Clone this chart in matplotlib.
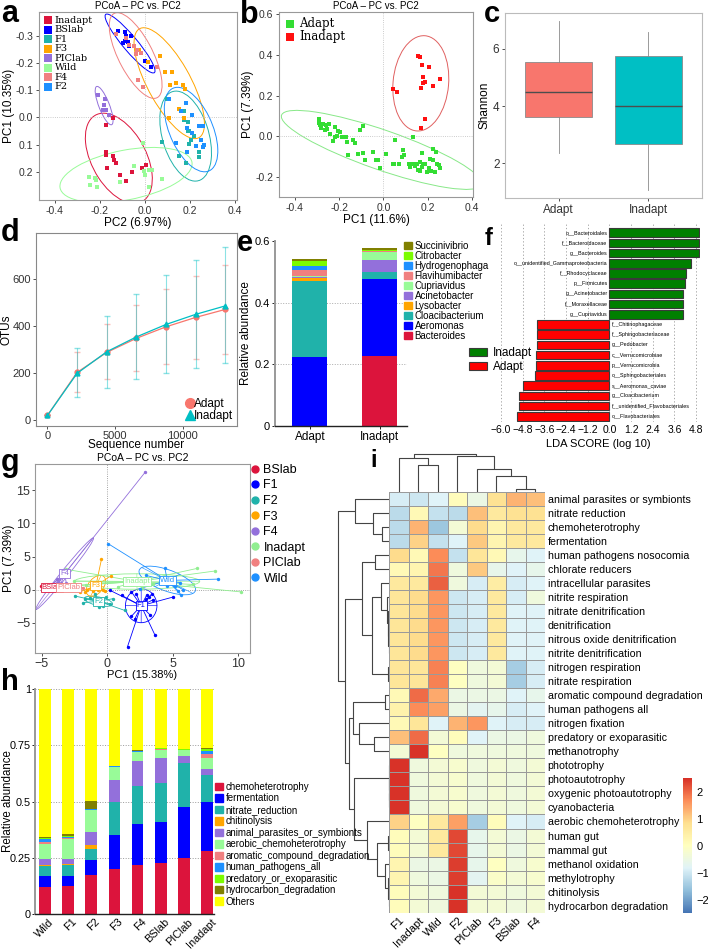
import numpy as np
import matplotlib
matplotlib.use('Agg')
import matplotlib.pyplot as plt
from matplotlib.patches import Ellipse, Patch
from matplotlib.lines import Line2D
from matplotlib.colors import LinearSegmentedColormap

plt.rcParams['font.family'] = ['Liberation Sans', 'DejaVu Sans']
plt.rcParams['axes.linewidth'] = 0.8

W, H = 708, 949
fig = plt.figure(figsize=(W / 100, H / 100), dpi=100)


def ax_px(l, t, r, b):
    return fig.add_axes([l / W, 1 - b / H, (r - l) / W, (b - t) / H])

# ----------------------------------------------------------------- data a
a_groups = ['Inadapt', 'BSlab', 'F1', 'F3', 'PIClab', 'Wild', 'F4', 'F2']
a_colors = {'Inadapt': '#DC143C', 'BSlab': '#0000FF', 'F1': '#20B2AA', 'F3': '#FFA500',
            'PIClab': '#9370DB', 'Wild': '#98FB98', 'F4': '#F08080', 'F2': '#1E90FF'}
a_x = {
    'Inadapt': [-0.174, -0.174, -0.142, -0.130, -0.137, -0.170, -0.112, -0.083, -0.058, -0.014, 0.006, -0.139, -0.171],
    'BSlab': [-0.120, -0.090, -0.083, -0.061, -0.086, -0.095, -0.076, -0.071, 0.001, 0.028],
    'F1': [0.101, 0.175, 0.175, 0.194, 0.190, 0.197, 0.217, 0.205, 0.197, 0.075, 0.242, 0.242, 0.153, 0.183],
    'F3': [0.069, 0.121, 0.090, 0.113, 0.138, 0.172, 0.178, 0.109, 0.175, 0.153, 0.013, -0.024],
    'PIClab': [-0.208, -0.176, -0.182, -0.171, -0.186, -0.160],
    'Wild': [-0.248, -0.245, -0.219, -0.216, -0.213, -0.112, -0.050, -0.006, -0.002, 0.017, 0.032, 0.001, 0.020, 0.075],
    'F4': [-0.127, -0.083, -0.046, -0.034, -0.017, -0.039, 0.053, -0.031, -0.009, -0.071],
    'F2': [0.106, 0.183, 0.160, 0.209, 0.187, 0.212, 0.242, 0.259, 0.249, 0.264, 0.259, 0.138, 0.187, 0.227],
}
a_y = {
    'Inadapt': [0.129, 0.138, 0.144, 0.169, 0.157, 0.188, 0.212, 0.235, 0.200, 0.188, 0.175, 0.001, 0.026],
    'BSlab': [-0.321, -0.315, -0.302, -0.302, -0.284, -0.275, -0.278, -0.265, -0.209, -0.185],
    'F1': [-0.067, -0.023, 0.008, 0.018, 0.051, 0.051, 0.070, 0.082, 0.097, 0.092, 0.126, 0.147, 0.144, 0.167],
    'F3': [-0.228, -0.170, -0.168, -0.119, -0.126, -0.119, -0.106, 0.001, 0.001, -0.033, -0.206, -0.249],
    'PIClab': [-0.085, -0.069, -0.048, -0.027, -0.027, -0.008],
    'Wild': [0.219, 0.250, 0.225, 0.231, 0.258, 0.237, 0.181, 0.095, 0.196, 0.194, 0.194, 0.212, 0.256, 0.229],
    'F4': [-0.309, -0.293, -0.265, -0.250, -0.237, -0.234, -0.185, -0.137, -0.113, -0.267],
    'F2': [-0.069, -0.054, -0.023, -0.011, 0.039, 0.057, 0.033, 0.030, 0.082, 0.103, 0.109, 0.095, 0.126, 0.107],
}

# ----------------------------------------------------------------- data b
b_adapt_x = [-0.290, -0.293, -0.287, -0.272, -0.282, -0.260, -0.254, -0.264, -0.245, -0.219, -0.204, -0.196,
             -0.242, -0.219, -0.211, -0.229, -0.189, -0.169, -0.166, -0.136, -0.128, -0.106, -0.091, -0.158,
             -0.113, -0.094, -0.083, -0.045, -0.033, -0.026, -0.015, 0.012, 0.042, 0.050, 0.053, 0.072, 0.083,
             0.091, 0.088, 0.116, 0.121, 0.136, 0.133, 0.143, 0.151, 0.158, 0.166, 0.174, 0.174, 0.178, 0.189,
             0.196, 0.208, 0.211, 0.223, 0.223, 0.238, 0.242, 0.251, 0.254, 0.234, 0.217, 0.166]
b_adapt_y = [0.084, 0.067, 0.054, 0.059, 0.041, 0.054, 0.038, 0.030, 0.059, 0.046, 0.025, 0.021, 0.013, -0.003,
             0.000, -0.025, -0.003, -0.003, -0.028, -0.016, -0.031, 0.030, 0.049, -0.090, -0.085, -0.080, -0.115,
             -0.077, -0.115, -0.118, -0.154, -0.089, -0.138, -0.134, -0.020, -0.138, -0.102, -0.093, -0.069,
             -0.134, -0.151, -0.134, -0.003, -0.148, -0.134, -0.167, -0.126, -0.082, -0.151, -0.138, -0.134,
             -0.175, -0.156, -0.110, -0.115, -0.061, -0.077, -0.138, -0.143, -0.154, -0.175, -0.170, -0.172]
b_inadapt_x = [0.158, 0.166, 0.174, 0.208, 0.178, 0.181, 0.189, 0.171, 0.223, 0.254, 0.045, 0.063, 0.186, 0.171]
b_inadapt_y = [0.395, 0.390, 0.352, 0.341, 0.289, 0.262, 0.267, 0.239, 0.246, 0.282, 0.234, 0.218, 0.084, 0.039]

# ----------------------------------------------------------------- data c
c_groups = ['Adapt', 'Inadapt']
c_whislo = [2.37, 1.07]
c_q1 = [3.62, 2.68]
c_med = [4.48, 3.99]
c_q3 = [5.56, 5.77]
c_whishi = [6.99, 6.58]

# ----------------------------------------------------------------- data d
d_x = [10, 2200, 4390, 6580, 8770, 10960, 13150]
d_adapt = [20, 203, 288, 348, 397, 437, 471]
d_adapt_lo = [20, 120, 173, 209, 237, 258, 280]
d_adapt_hi = [20, 288, 408, 489, 556, 613, 660]
d_inadapt = [20, 199, 291, 354, 407, 450, 486]
d_inadapt_lo = [20, 97, 137, 173, 199, 223, 244]
d_inadapt_hi = [20, 305, 443, 536, 616, 681, 737]

# ----------------------------------------------------------------- data e
e_groups = ['Adapt', 'Inadapt']
e_taxa = ['Bacteroides', 'Aeromonas', 'Cloacibacterium', 'Lysobacter', 'Acinetobacter',
          'Cupriavidus', 'Flavihumibacter', 'Hydrogenophaga', 'Citrobacter', 'Succinivibrio']
e_adapt = [0.0, 0.225, 0.245, 0.010, 0.003, 0.004, 0.019, 0.013, 0.015, 0.007]
e_inadapt = [0.226, 0.250, 0.024, 0.001, 0.036, 0.027, 0.002, 0.003, 0.003, 0.004]
e_colors = ['#DC143C', '#0000FF', '#20B2AA', '#FFA500', '#9370DB', '#98FB98',
            '#F08080', '#1E90FF', '#7CFC00', '#808000']

# ----------------------------------------------------------------- data f
f_labels = ['o__Bacteroidales', 'f__Bacteroidaceae', 'g__Bacteroides', 'o__unidentified_Gammaproteobacteria',
            'f__Rhodocyclaceae', 'p__Firmicutes', 'g__Acinetobacter', 'f__Moraxellaceae', 'g__Cupriavidus',
            'f__Chitinophagaceae', 'f__Sphingobacteriaceae', 'g__Pedobacter', 'c__Verrucomicrobiae',
            'p__Verrucomicrobia', 'o__Sphingobacteriales', 's__Aeromonas_caviae', 'g__Cloacibacterium',
            'f__unidentified_Flavobacteriales', 'o__Flavobacteriales']
f_scores = [4.98, 4.98, 4.98, 4.50, 4.25, 4.21, 4.10, 4.10, 4.06,
            -4.01, -4.01, -4.01, -4.04, -4.04, -4.12, -4.78, -5.00, -5.02, -5.10]
f_ticks = [-6.0, -4.8, -3.6, -2.4, -1.2, 0.0, 1.2, 2.4, 3.6, 4.8]

# ----------------------------------------------------------------- data g
g_groups = ['BSlab', 'F1', 'F2', 'F3', 'F4', 'Inadapt', 'PIClab', 'Wild']
g_colors = {'BSlab': '#DC143C', 'F1': '#0000FF', 'F2': '#20B2AA', 'F3': '#FFA500', 'F4': '#9370DB',
            'Inadapt': '#90EE90', 'PIClab': '#F08080', 'Wild': '#1E90FF'}
g_x = {
    'BSlab': [-5.03, -4.85, -4.64, -4.34, -4.13, -3.5, -2.9],
    'F1': [1.56, 3.65, 1.86, 2.12, 3.27, 2.96, 3.52, 3.19, 5.05, 1.10, 0.20, 3.39, 2.24, 1.86, 3.01],
    'F2': [-2.47, -1.84, -1.33, -0.61, -0.31, -0.64, 0.46, 0.20, -1.71, 1.35, -0.94, -0.05],
    'F3': [-0.43, 0.26, -1.66, -1.07, -0.69, -0.31, -0.94, -1.50, -2.09, -0.13],
    'F4': [2.92, -3.80, -3.75, -4.52, -3.11, -4.20, -3.90, -4.50, -4.00, -3.50],
    'Inadapt': [-3.11, 6.89, 8.24, 10.23, 6.53, 2.63, -2.5, -0.7, -1.6, 0.8, 3.5, -3.6],
    'PIClab': [-2.98, -3.49, -2.22, -1.84, -2.60, -4.4],
    'Wild': [0.08, 2.96, 4.41, 5.56, 8.44, 4.54, 5.18, 5.64, 5.43, 5.77, 2.50],
}
g_y = {
    'BSlab': [0.51, 0.41, 0.31, 0.26, 0.26, 0.10, 0.05],
    'F1': [-8.62, -6.89, -4.03, -4.44, -3.83, -1.48, -1.53, -1.12, -1.12, -0.87, -0.10, -0.71, -0.71, -0.36, -0.87],
    'F2': [-0.97, -1.99, -1.22, -2.04, -2.55, -2.65, -1.38, -2.14, -1.43, -3.16, -0.61, -1.12],
    'F3': [4.59, 2.04, -0.41, -0.20, -0.10, -0.10, 0.41, 0.00, -0.36, -0.20],
    'F4': [17.8, 1.53, 0.92, 0.31, 0.92, 0.40, 0.30, 0.25, 0.60, 1.00],
    'Inadapt': [3.06, 3.21, 2.81, -0.36, 0.77, 0.31, 1.3, 1.0, 0.7, 0.4, 0.9, 0.5],
    'PIClab': [0.31, 0.31, 0.15, 0.31, 0.31, 0.2],
    'Wild': [6.94, 2.14, 3.21, 1.02, 1.58, 0.56, 0.51, -0.77, -0.20, 0.00, 0.15],
}

# ----------------------------------------------------------------- data h
h_samples = ['Wild', 'F1', 'F2', 'F3', 'F4', 'BSlab', 'PIClab', 'Inadapt']
h_funcs = ['chemoheterotrophy', 'fermentation', 'nitrate_reduction', 'chitinolysis',
           'animal_parasites_or_symbionts', 'aerobic_chemoheterotrophy', 'aromatic_compound_degradation',
           'human_pathogens_all', 'predatory_or_exoparasitic', 'hydrocarbon_degradation', 'Others']
h_colors = ['#DC143C', '#0000FF', '#20B2AA', '#FFA500', '#9370DB', '#98FB98', '#F08080',
            '#1E90FF', '#7CFC00', '#808000', '#FFFF00']
h_values = {
    'chemoheterotrophy': [0.118, 0.126, 0.174, 0.201, 0.219, 0.226, 0.251, 0.278],
    'fermentation': [0.049, 0.044, 0.067, 0.149, 0.183, 0.185, 0.225, 0.219],
    'nitrate_reduction': [0.047, 0.049, 0.048, 0.149, 0.166, 0.172, 0.194, 0.119],
    'chitinolysis': [0.002, 0.004, 0.019, 0.001, 0.001, 0.001, 0.001, 0.002],
    'animal_parasites_or_symbionts': [0.028, 0.023, 0.055, 0.095, 0.111, 0.111, 0.031, 0.025],
    'aerobic_chemoheterotrophy': [0.068, 0.087, 0.098, 0.057, 0.040, 0.036, 0.025, 0.052],
    'aromatic_compound_degradation': [0.010, 0.003, 0.002, 0.002, 0.002, 0.002, 0.002, 0.015],
    'human_pathogens_all': [0.010, 0.006, 0.002, 0.003, 0.003, 0.002, 0.002, 0.015],
    'predatory_or_exoparasitic': [0.004, 0.006, 0.002, 0.001, 0.001, 0.001, 0.001, 0.007],
    'hydrocarbon_degradation': [0.007, 0.009, 0.034, 0.001, 0.001, 0.001, 0.001, 0.008],
    'Others': [0.657, 0.643, 0.499, 0.341, 0.273, 0.263, 0.267, 0.260],
}

# ----------------------------------------------------------------- data i
i_cols = ['F1', 'Inadapt', 'Wild', 'F2', 'PIClab', 'F3', 'BSlab', 'F4']
i_rows = ['animal parasites or symbionts', 'nitrate reduction', 'chemoheterotrophy', 'fermentation',
          'human pathogens nosocomia', 'chlorate reducers', 'intracellular parasites', 'nitrite respiration',
          'nitrate denitrification', 'denitrification', 'nitrous oxide denitrification', 'nitrite denitrification',
          'nitrogen respiration', 'nitrate respiration', 'aromatic compound degradation', 'human pathogens all',
          'nitrogen fixation', 'predatory or exoparasitic', 'methanotrophy', 'phototrophy', 'photoautotrophy',
          'oxygenic photoautotrophy', 'cyanobacteria', 'aerobic chemoheterotrophy', 'human gut', 'mammal gut',
          'methanol oxidation', 'methylotrophy', 'chitinolysis', 'hydrocarbon degradation']
i_z = [
    [-0.9, -1.0, -0.8, 0.1, -0.5, 0.8, 1.3, 1.2],
    [-1.2, 0.2, -1.1, -1.2, 1.2, 0.6, 0.8, 0.8],
    [-1.2, 1.3, -1.5, -0.3, 0.9, 0.3, 0.6, 0.6],
    [-1.2, 1.0, -1.1, -0.8, 1.1, 0.3, 0.6, 0.6],
    [0.9, 0.2, 1.7, -1.1, 0.7, 0.2, -0.6, -0.8],
    [0.2, 0.3, 1.9, -0.4, 1.1, -0.6, -0.8, -0.6],
    [0.6, 0.6, 2.1, -0.4, -0.9, 0.5, -0.9, -0.8],
    [0.7, 0.9, 1.6, -1.0, -0.9, 0.6, -0.9, -0.4],
    [0.7, 0.9, 1.6, -1.0, -0.9, 0.6, -0.8, -0.8],
    [0.7, 0.9, 1.6, -1.0, -0.9, 0.6, -0.8, -0.8],
    [0.7, 0.9, 1.6, -1.0, -0.9, 0.6, -0.8, -0.8],
    [0.7, 0.9, 1.6, -1.0, -0.9, 0.6, -0.8, -0.8],
    [0.7, 0.7, 1.8, 0.0, -0.4, -0.3, -1.4, -0.9],
    [0.7, 0.7, 1.8, 0.0, -0.4, -0.3, -1.4, -0.9],
    [0.2, 2.0, 1.4, -0.5, -0.5, -0.5, -0.8, -0.6],
    [0.4, 1.7, 1.5, -0.5, -0.7, -0.6, -0.9, -0.8],
    [0.2, 0.7, -0.8, 1.3, 1.6, -0.8, -0.9, -0.9],
    [1.2, 2.0, -0.3, 0.1, -0.8, -0.5, -0.5, -0.4],
    [-0.3, 2.5, 0.0, -0.4, -0.4, -0.4, -0.4, -0.4],
    [2.5, -0.4, -0.3, -0.2, -0.4, -0.3, -0.4, -0.3],
    [2.5, -0.4, -0.3, -0.2, -0.4, -0.3, -0.4, -0.3],
    [2.5, -0.4, -0.3, -0.2, -0.4, -0.3, -0.4, -0.3],
    [2.5, -0.4, -0.3, -0.2, -0.4, -0.3, -0.4, -0.3],
    [1.0, 0.0, 0.6, 1.5, -1.4, 0.1, -0.8, -0.9],
    [0.1, -0.3, 0.6, 2.3, -0.6, -0.3, -0.5, -0.3],
    [0.1, -0.3, 0.6, 2.3, -0.6, -0.3, -0.5, -0.3],
    [0.3, -0.5, -0.5, 2.4, -0.6, 0.0, -0.4, -0.2],
    [0.3, -0.4, -0.5, 2.4, -0.7, -0.1, -0.3, -0.2],
    [0.1, -0.3, -0.4, 2.5, -0.3, -0.3, -0.4, -0.3],
    [0.1, -0.3, -0.4, 2.5, -0.3, -0.3, -0.4, -0.3],
]
# cluster trees: (left, right, merge height); leaves are column / row indices
i_col_tree = ((0, (1, 2, 26.7), 33.4), (3, (4, (5, (6, 7, 2.4), 15.7), 22.4), 35.7), 37.7)
i_row_tree = (
    (0, (1, (2, 3, 7.6), 16.6), 34.0),
    (((4, 5, 14.3), ((6, (7, (8, (9, (10, 11, 0.6), 0.9), 1.2), 2.5), 8.0), (12, 13, 1.5), 17.0), 27.7),
     (((14, 15, 4.5), (16, (17, 18, 15.0), 30.0), 36.0),
      ((19, (20, (21, 22, 0.3), 0.5), 0.8),
       (23, ((24, 25, 1.0), (26, (27, (28, 29, 0.8), 1.5), 4.0), 12.0), 22.0), 35.0), 40.0), 44.3),
    51.0)

# ======================================================================= helpers
def cov_ellipse(ax, xs, ys, scale, color, lw=0.8, axes_lines=False):
    xs = np.asarray(xs, float)
    ys = np.asarray(ys, float)
    cov = np.cov(xs, ys)
    vals, vecs = np.linalg.eigh(cov)
    order = vals.argsort()[::-1]
    vals, vecs = vals[order], vecs[:, order]
    ang = np.degrees(np.arctan2(vecs[1, 0], vecs[0, 0]))
    cx, cy = xs.mean(), ys.mean()
    e = Ellipse((cx, cy), 2 * scale * np.sqrt(vals[0]), 2 * scale * np.sqrt(vals[1]), angle=ang,
                fill=False, ec=color, lw=lw)
    ax.add_patch(e)
    if axes_lines:
        for k in range(2):
            dx, dy = vecs[:, k] * scale * np.sqrt(vals[k])
            ax.plot([cx - dx, cx + dx], [cy - dy, cy + dy], color=color, lw=lw * 0.7)


def style_box(ax, color='#999999'):
    for s in ax.spines.values():
        s.set_color(color)
    ax.tick_params(colors='#333333', length=2.5, width=0.6, pad=1.5)


def panel_letter(x, y, s, size=23):
    fig.text(x / W, 1 - y / H, s, fontsize=size, fontweight='bold', ha='left', va='baseline')


def draw_tree(ax, node, orient, color='#444444', lw=0.8):
    if isinstance(node, int):
        return node + 0.5, 0.0
    left, right, h = node
    cl, hl = draw_tree(ax, left, orient, color, lw)
    cr, hr = draw_tree(ax, right, orient, color, lw)
    if orient == 'top':
        ax.plot([cl, cl, cr, cr], [hl, h, h, hr], color=color, lw=lw, solid_capstyle='butt')
    else:
        ax.plot([hl, h, h, hr], [cl, cl, cr, cr], color=color, lw=lw, solid_capstyle='butt')
    return (cl + cr) / 2, h

# ======================================================================= panel a
ax = ax_px(39, 12, 237, 200)
ax.axhline(0, color='#bbbbbb', lw=0.6, ls=':')
ax.axvline(0, color='#bbbbbb', lw=0.6, ls=':')
for g in a_groups:
    ax.scatter(a_x[g], a_y[g], marker='s', s=10, color=a_colors[g], lw=0, zorder=3, label=g)
    cov_ellipse(ax, a_x[g], a_y[g], 2.45, a_colors[g], lw=0.7)
ax.set_xlim(-0.47, 0.41)
ax.set_ylim(0.305, -0.39)
ax.set_xticks([-0.4, -0.2, 0.0, 0.2, 0.4])
ax.set_yticks([-0.3, -0.2, -0.1, 0.0, 0.1, 0.2])
ax.set_xticklabels(['-0.4', '-0.2', '0.0', '0.2', '0.4'], fontsize=7.5)
ax.set_yticklabels(['-0.3', '-0.2', '-0.1', '0.0', '0.1', '0.2'], fontsize=7.5)
style_box(ax)
ax.set_title('PCoA – PC vs. PC2', fontsize=7, pad=2)
ax.set_xlabel('PC2 (6.97%)', fontsize=8.5, labelpad=1)
ax.set_ylabel('PC1 (10.35%)', fontsize=8.5, labelpad=0)
ax.legend(loc='upper left', frameon=False, prop={'family': 'DejaVu Serif', 'size': 7},
          handletextpad=0.2, labelspacing=0.05, borderaxespad=0.3, borderpad=0.1, markerscale=1.6,
          handlelength=1.0)
panel_letter(1, 22, 'a', size=22)

# ======================================================================= panel b
ax = ax_px(279, 12, 473, 197)
ax.axhline(0, color='#bbbbbb', lw=0.6, ls=':')
ax.axvline(0, color='#bbbbbb', lw=0.6, ls=':')
ax.scatter(b_adapt_x, b_adapt_y, marker='s', s=10, color='#33DD33', lw=0, zorder=3, label='Adapt')
ax.scatter(b_inadapt_x, b_inadapt_y, marker='s', s=10, color='#FF1010', lw=0, zorder=3, label='Inadapt')
cov_ellipse(ax, b_adapt_x, b_adapt_y, 2.45, '#88E888', lw=0.7)
cov_ellipse(ax, b_inadapt_x, b_inadapt_y, 2.3, '#E06060', lw=0.7)
ax.set_xlim(-0.472, 0.405)
ax.set_ylim(-0.298, 0.61)
ax.set_xticks([-0.4, -0.2, 0.0, 0.2, 0.4])
ax.set_xticklabels(['-0.4', '-0.2', '0.0', '0.2', '0.4'], fontsize=7.5)
ax.set_yticks([-0.2, 0.0, 0.2, 0.4, 0.6])
ax.set_yticklabels(['-0.2', '0.0', '0.2', '0.4', '0.6'], fontsize=7.5)
style_box(ax)
ax.set_title('PCoA – PC vs. PC2', fontsize=7, pad=2)
ax.set_xlabel('PC1 (11.6%)', fontsize=8.5, labelpad=1)
ax.set_ylabel('PC1 (7.39%)', fontsize=8.5, labelpad=1)
ax.legend(loc='upper left', frameon=False, prop={'family': 'DejaVu Serif', 'size': 8.5},
          handletextpad=0.3, labelspacing=0.05, borderaxespad=0.3, borderpad=0.1, markerscale=1.8,
          handlelength=1.0)
panel_letter(240, 23, 'b', size=22)

# ======================================================================= panel c
ax = ax_px(505, 13, 702, 198)
stats = [dict(whislo=c_whislo[k], q1=c_q1[k], med=c_med[k], q3=c_q3[k], whishi=c_whishi[k], label=c_groups[k])
         for k in range(2)]
bp = ax.bxp(stats, positions=[1, 2], widths=0.75, patch_artist=True, showfliers=False, showcaps=False,
            boxprops=dict(edgecolor='#8a8a8a', lw=0.6),
            medianprops=dict(color='#4d4d4d', lw=1.0),
            whiskerprops=dict(color='#8a8a8a', lw=0.6))
for patch, col in zip(bp['boxes'], ['#F8766D', '#00BFC4']):
    patch.set_facecolor(col)
ax.set_xlim(0.4, 2.6)
ax.set_ylim(0.78, 7.26)
ax.set_yticks([2, 4, 6])
ax.tick_params(axis='both', labelsize=8.5)
style_box(ax, '#bbbbbb')
ax.set_ylabel('Shannon', fontsize=8.5, labelpad=2)
panel_letter(484, 22, 'c', size=21)

# ======================================================================= panel d
ax = ax_px(36, 233, 237, 426)
ax.errorbar(d_x, d_adapt, yerr=[np.subtract(d_adapt, d_adapt_lo), np.subtract(d_adapt_hi, d_adapt)],
            fmt='none', ecolor='#F8766D', alpha=0.45, elinewidth=0.8, capsize=2.5)
ax.errorbar(d_x, d_inadapt, yerr=[np.subtract(d_inadapt, d_inadapt_lo), np.subtract(d_inadapt_hi, d_inadapt)],
            fmt='none', ecolor='#00BFC4', alpha=0.45, elinewidth=0.8, capsize=2.5)
ax.plot(d_x, d_adapt, color='#F8766D', lw=0.9, marker='o', ms=3.5, label='Adapt')
ax.plot(d_x, d_inadapt, color='#00BFC4', lw=0.9, marker='^', ms=3.5, label='Inadapt')
ax.set_xlim(-835, 14010)
ax.set_ylim(-25, 796)
ax.set_xticks([0, 5000, 10000])
ax.set_yticks([0, 200, 400, 600])
style_box(ax, '#888888')
ax.tick_params(axis='both', labelsize=8, pad=1)
ax.set_xlabel('Sequence number', fontsize=8.5, labelpad=-1)
ax.set_ylabel('OTUs', fontsize=8.5, labelpad=0)
ax.legend(loc='lower right', frameon=False, fontsize=8.5, markerscale=2.0, handlelength=0.6,
          handletextpad=0.1, labelspacing=0.0, borderaxespad=0.2, borderpad=0.1)
for h_ in ax.get_legend().legend_handles:
    h_.set_linestyle('none')
panel_letter(1, 241, 'd', size=22)

# ======================================================================= panel e
ax = ax_px(275, 241, 407, 426)
bottoms = np.zeros(2)
for k, t in enumerate(e_taxa):
    vals = np.array([e_adapt[k], e_inadapt[k]])
    ax.bar([1, 2], vals, width=0.5, bottom=bottoms, color=e_colors[k], lw=0, zorder=2, label=t)
    bottoms += vals
for yv in [0.2, 0.4]:
    ax.axhline(yv, color='#aaaaaa', lw=0.7, ls=':', zorder=1)
ax.set_xlim(0.5, 2.387)
ax.set_ylim(0, 0.6)
ax.set_xticks([1, 2])
ax.set_xticklabels(e_groups, fontsize=8.5)
ax.set_yticks([0, 0.2, 0.4, 0.6])
ax.set_yticklabels(['0', '0.2', '0.4', '0.6'], fontsize=8)
for s in ['top', 'right']:
    ax.spines[s].set_visible(False)
ax.spines['left'].set_color('#999999')
ax.spines['left'].set_linewidth(1.4)
ax.spines['bottom'].set_color('#222222')
ax.spines['bottom'].set_linewidth(1.0)
ax.tick_params(length=2.5, width=0.6, pad=1.0)
ax.set_ylabel('Relative abundance', fontsize=8.5, labelpad=2)
handles = [Patch(color=e_colors[k]) for k in range(len(e_taxa))][::-1]
fig.legend(handles, e_taxa[::-1], loc='upper left', bbox_to_anchor=(404 / W, 1 - 241 / H), frameon=False,
           fontsize=7, handlelength=0.8, handleheight=0.8, handletextpad=0.3, labelspacing=0.0,
           borderaxespad=0, borderpad=0)
panel_letter(237, 251, 'e', size=21)

# ======================================================================= panel f
ax = ax_px(496, 222, 700, 422)
n = len(f_labels)
ypos = np.arange(n)[::-1]
for k in range(n):
    col = '#008000' if f_scores[k] > 0 else '#FF0000'
    ax.barh(ypos[k], f_scores[k], height=0.85, color=col, edgecolor='#3a3a3a', lw=0.8, zorder=3)
    if f_scores[k] > 0:
        ax.text(-0.1, ypos[k], f_labels[k], ha='right', va='center', fontsize=3.9, zorder=4)
    else:
        ax.text(0.12, ypos[k], f_labels[k], ha='left', va='center', fontsize=3.9, zorder=4)
for xt in f_ticks:
    ax.axvline(xt, color='#999999', lw=0.6, ls=(0, (1.5, 2.5)), zorder=1)
ax.set_xlim(-6.28, 5.02)
ax.set_ylim(-0.56, n - 1 + 1.05)
ax.set_xticks(f_ticks)
ax.set_xticklabels(['−6.0', '−4.8', '−3.6', '−2.4', '−1.2', '0.0', '1.2', '2.4', '3.6', '4.8'], fontsize=7.5)
ax.set_yticks([])
for s in ax.spines.values():
    s.set_visible(False)
ax.tick_params(axis='x', length=0, pad=2)
ax.set_xlabel('LDA SCORE (log 10)', fontsize=8, labelpad=3)
fig.legend([Patch(fc='#008000', ec='#3a3a3a', lw=0.8), Patch(fc='#FF0000', ec='#3a3a3a', lw=0.8)],
           ['Inadapt', 'Adapt'], loc='upper left', bbox_to_anchor=(469 / W, 1 - 347 / H), frameon=False,
           fontsize=8.5, handlelength=1.5, handleheight=0.6, handletextpad=0.5, labelspacing=0.2,
           borderaxespad=0, borderpad=0)
panel_letter(485, 245, 'f', size=17)

# ======================================================================= panel g
ax = ax_px(35, 464, 250, 653)
ax.axhline(0, color='#888888', lw=0.6, ls=':')
ax.axvline(0, color='#888888', lw=0.6, ls=':')
for g in g_groups:
    xs, ys = np.array(g_x[g]), np.array(g_y[g])
    cx, cy = xs.mean(), ys.mean()
    for xx, yy in zip(xs, ys):
        ax.plot([cx, xx], [cy, yy], color=g_colors[g], lw=0.6, zorder=2)
    ax.scatter(xs, ys, s=6, color=g_colors[g], lw=0, zorder=3)
    cov_ellipse(ax, xs, ys, 1.0, g_colors[g], lw=0.6, axes_lines=True)
for g in g_groups:
    xs, ys = np.array(g_x[g]), np.array(g_y[g])
    ax.text(xs.mean(), ys.mean(), g, fontsize=5.5, color=g_colors[g], ha='center', va='center', zorder=5,
            bbox=dict(boxstyle='square,pad=0.15', fc='white', ec=g_colors[g], lw=0.6))
ax.set_xlim(-5.5, 10.9)
ax.set_ylim(-9.6, 19.0)
ax.set_xticks([-5, 0, 5, 10])
ax.set_yticks([-5, 0, 5, 10, 15])
style_box(ax, '#999999')
ax.tick_params(axis='both', labelsize=9, pad=1)
ax.set_title('PCoA – PC vs. PC2', fontsize=7.5, pad=2)
ax.set_xlabel('PC1 (15.38%)', fontsize=8, labelpad=0)
ax.set_ylabel('PC1 (7.39%)', fontsize=8.5, labelpad=1)
g_handles = [Line2D([], [], marker='o', ls='none', color=g_colors[g], ms=5) for g in g_groups]
fig.legend(g_handles, g_groups, loc='upper left', bbox_to_anchor=(251 / W, 1 - 464 / H), frameon=False,
           fontsize=9, handlelength=0.6, handletextpad=0.4, labelspacing=0.28, borderaxespad=0, borderpad=0)
panel_letter(1, 471, 'g', size=22)

# ======================================================================= panel h
ax = ax_px(35, 689, 214, 914)
xpos = np.arange(len(h_samples))
bottoms = np.zeros(len(h_samples))
for k, fn in enumerate(h_funcs):
    vals = np.array(h_values[fn])
    ax.bar(xpos, vals, width=0.5, bottom=bottoms, color=h_colors[k], lw=0, zorder=2, label=fn)
    bottoms += vals
for yv in [0.25, 0.5, 0.75, 1.0]:
    ax.axhline(yv, color='#999999', lw=0.7, ls=':', zorder=1)
ax.set_xlim(-0.42, 7.29)
ax.set_ylim(0, 1.0)
ax.set_xticks(xpos + 0.15)
ax.set_xticklabels(h_samples, rotation=45, ha='right', rotation_mode='anchor', fontsize=7.8)
ax.set_yticks([0, 0.25, 0.5, 0.75, 1.0])
ax.set_yticklabels(['0', '0.25', '0.5', '0.75', '1'], fontsize=7.8)
for s in ['top', 'right']:
    ax.spines[s].set_visible(False)
ax.spines['left'].set_color('#999999')
ax.spines['left'].set_linewidth(1.4)
ax.spines['bottom'].set_color('#222222')
ax.spines['bottom'].set_linewidth(1.0)
ax.tick_params(length=2.0, width=0.6, pad=1.0)
ax.tick_params(axis='x', length=0, pad=2)
ax.set_ylabel('Relative abundance', fontsize=8.3)
ax.yaxis.set_label_coords((14.0 - 35) / 179, 0.5)
h_handles = [Patch(color=c) for c in h_colors]
fig.legend(h_handles, h_funcs, loc='upper left', bbox_to_anchor=(215 / W, 1 - 782 / H), frameon=False,
           fontsize=7, handlelength=0.8, handleheight=0.8, handletextpad=0.3, labelspacing=0.15,
           borderaxespad=0, borderpad=0)
panel_letter(1, 690, 'h', size=21)

# ======================================================================= panel i
cmap = LinearSegmentedColormap.from_list('rdylbu_r', ['#4575B4', '#91BFDB', '#E0F3F8', '#FFFFBF',
                                                        '#FEE090', '#FC8D59', '#D73027'])
hx0, hy0, hx1, hy1 = 389.3, 491.7, 545, 912.7
ax = ax_px(hx0, hy0, hx1, hy1)
Z = np.array(i_z)
mesh = ax.pcolormesh(np.arange(len(i_cols) + 1), np.arange(len(i_rows) + 1), Z, cmap=cmap,
                     vmin=-2.47, vmax=2.53, edgecolors='#9a9a9a', linewidth=0.6)
ax.set_xlim(0, len(i_cols))
ax.set_ylim(len(i_rows), 0)
ax.yaxis.tick_right()
ax.set_yticks(np.arange(len(i_rows)) + 0.5)
ax.set_yticklabels(i_rows, fontsize=7.7)
ax.set_xticks(np.arange(len(i_cols)) + 0.5)
ax.set_xticklabels(i_cols, rotation=45, ha='right', rotation_mode='anchor', fontsize=8)
ax.tick_params(length=0, pad=2)
for s in ax.spines.values():
    s.set_visible(False)

# column dendrogram
axc = ax_px(hx0, 440, hx1, hy0)
draw_tree(axc, i_col_tree, 'top')
axc.set_xlim(0, len(i_cols))
axc.set_ylim(0, hy0 - 440)
axc.axis('off')

# row dendrogram
axr = ax_px(320, hy0, hx0, hy1)
draw_tree(axr, i_row_tree, 'left')
axr.set_xlim(hx0 - 320, 0)
axr.set_ylim(len(i_rows), 0)
axr.axis('off')

# colorbar
cax = ax_px(683, 778, 692, 913)
cb = fig.colorbar(mesh, cax=cax)
cb.set_ticks([-2, -1, 0, 1, 2])
cb.outline.set_visible(False)
cax.tick_params(labelsize=8, length=0, pad=3)
panel_letter(370, 467, 'i', size=17)

fig.savefig('out.png', dpi=100)
